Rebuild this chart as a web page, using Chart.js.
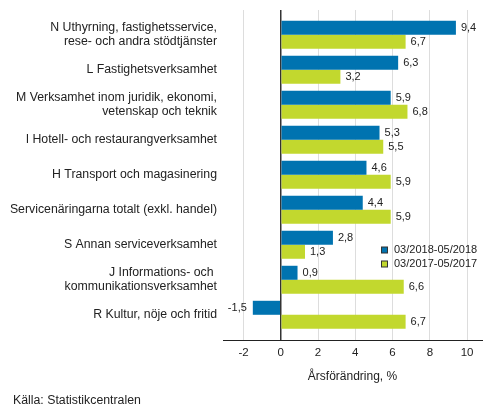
<!DOCTYPE html>
<html>
<head>
<meta charset="utf-8">
<script src="https://cdn.jsdelivr.net/npm/chart.js@4.4.0/dist/chart.umd.min.js"></script>
<style>
  html, body { margin: 0; padding: 0; background: #fff; }
  #wrap { width: 493px; height: 416px; position: relative; }
</style>
</head>
<body>
<div id="wrap"><canvas id="c"></canvas></div>
<script>
const categories = [
  ["N Uthyrning, fastighetsservice,", "rese- och andra stödtjänster"],
  ["L Fastighetsverksamhet"],
  ["M Verksamhet inom juridik, ekonomi,", "vetenskap och teknik"],
  ["I Hotell- och restaurangverksamhet"],
  ["H Transport och magasinering"],
  ["Servicenäringarna totalt (exkl. handel)"],
  ["S Annan serviceverksamhet"],
  ["J Informations- och ", "kommunikationsverksamhet"],
  ["R Kultur, nöje och fritid"]
];
const series2018 = [9.4, 6.3, 5.9, 5.3, 4.6, 4.4, 2.8, 0.9, -1.5];
const series2017 = [6.7, 3.2, 6.8, 5.5, 5.9, 5.9, 1.3, 6.6, 6.7];
const seriesNames = ["03/2018-05/2018", "03/2017-05/2017"];
const xTicks = [-2, 0, 2, 4, 6, 8, 10];
const xTitle = "Årsförändring, %";
const source = "Källa: Statistikcentralen";

const BLUE = "#0073b0";
const GREEN = "#c2d82e";
const FONT = "'Liberation Sans', Arial, sans-serif";

const toPoints = arr => arr.map((v, i) => ({ x: v, y: i }));

const labelPlugin = {
  id: "valueLabels",
  afterDatasetsDraw(chart) {
    const ctx = chart.ctx;
    ctx.save();
    ctx.font = "11px " + FONT;
    ctx.fillStyle = "#222";
    ctx.textBaseline = "middle";
    chart.data.datasets.forEach((ds, di) => {
      const meta = chart.getDatasetMeta(di);
      meta.data.forEach((bar, i) => {
        const v = ds.data[i].x;
        const txt = v.toFixed(1).replace(".", ",");
        if (v >= 0) {
          ctx.textAlign = "left";
          ctx.fillText(txt, bar.x + 5, bar.y);
        } else {
          ctx.textAlign = "right";
          ctx.fillText(txt, bar.x - 6, bar.y);
        }
      });
    });
    ctx.restore();
  }
};

const extrasPlugin = {
  id: "extras",
  afterDraw(chart) {
    const ctx = chart.ctx;
    const ca = chart.chartArea;
    ctx.save();
    ctx.fillStyle = "#222";
    ctx.textBaseline = "middle";
    // axis title
    ctx.font = "12px " + FONT;
    ctx.textAlign = "center";
    ctx.fillText(xTitle, (ca.left + ca.right) / 2, 377);
    // source
    ctx.font = "12.3px " + FONT;
    ctx.textAlign = "left";
    ctx.fillText(source, 13, 401);
    // legend
    ctx.font = "11px " + FONT;
    const colors = [BLUE, GREEN];
    const rows = [250, 264];
    seriesNames.forEach((name, i) => {
      const cy = rows[i];
      ctx.fillStyle = colors[i];
      ctx.fillRect(381.5, cy - 3, 6, 6);
      ctx.strokeStyle = "#333";
      ctx.lineWidth = 1;
      ctx.strokeRect(381.5, cy - 3, 6, 6);
      ctx.fillStyle = "#222";
      ctx.textAlign = "left";
      ctx.fillText(name, 394, cy);
    });
    ctx.restore();
  }
};

new Chart(document.getElementById("c"), {
  type: "bar",
  data: {
    datasets: [
      { label: seriesNames[0], data: toPoints(series2018), backgroundColor: BLUE, borderWidth: 0 },
      { label: seriesNames[1], data: toPoints(series2017), backgroundColor: GREEN, borderWidth: 0 }
    ]
  },
  options: {
    indexAxis: "y",
    responsive: true,
    maintainAspectRatio: false,
    animation: false,
    devicePixelRatio: 1,
    categoryPercentage: 0.8,
    barPercentage: 1,
    layout: { padding: { top: 10, right: 11, left: 0, bottom: 0 } },
    plugins: {
      legend: { display: false },
      tooltip: { enabled: false }
    },
    scales: {
      x: {
        type: "linear",
        min: -3.1,
        max: 10.8,
        afterBuildTicks(scale) { scale.ticks = xTicks.map(v => ({ value: v })); },
        afterFit(scale) { scale.height = 76; scale.paddingLeft = 0; scale.paddingRight = 0; },
        ticks: {
          font: { family: FONT, size: 11.5 },
          color: "#222",
          padding: 6,
          callback: v => String(v)
        },
        grid: {
          drawTicks: false,
          color: c => (c.tick && c.tick.value === 0 ? "#333" : "#dddddd"),
          lineWidth: c => (c.tick && c.tick.value === 0 ? 1.5 : 1)
        },
        border: { display: true, color: "#222", width: 1 }
      },
      y: {
        type: "linear",
        reverse: true,
        offset: false,
        min: -0.705,
        max: 8.72,
        afterBuildTicks(scale) { scale.ticks = categories.map((_, i) => ({ value: i })); },
        afterFit(scale) { scale.width = 223; scale.paddingTop = 0; scale.paddingBottom = 0; },
        ticks: {
          font: { family: FONT, size: 12.3, lineHeight: 1.15 },
          color: "#222",
          padding: 6,
          autoSkip: false,
          callback: v => categories[v]
        },
        grid: { display: false, drawTicks: false, offset: false },
        border: { display: false }
      }
    }
  },
  plugins: [labelPlugin, extrasPlugin]
});
</script>
</body>
</html>
